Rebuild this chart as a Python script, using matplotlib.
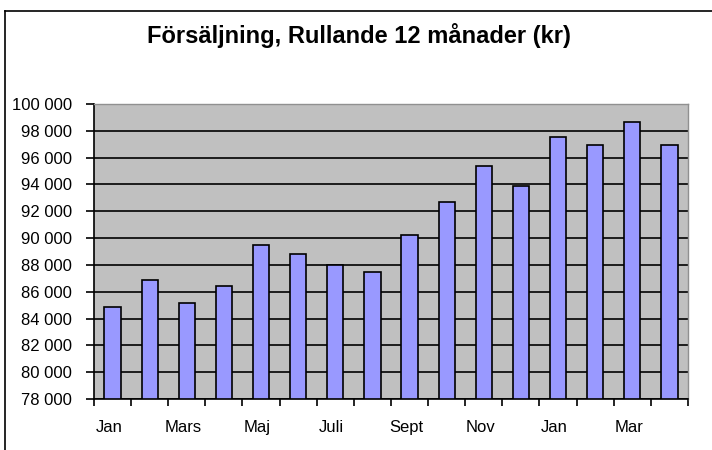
import matplotlib
matplotlib.use("Agg")
import matplotlib.pyplot as plt
from matplotlib.ticker import FuncFormatter, FixedLocator
from matplotlib.transforms import ScaledTranslation
import numpy as np

months = ["Jan", "Feb", "Mars", "Apr", "Maj", "Jun", "Juli", "Aug",
          "Sept", "Okt", "Nov", "Dec", "Jan", "Feb", "Mar", "Apr"]
sales = [84860, 86850, 85180, 86400, 89450, 88830, 87960, 87470,
         90220, 92660, 95390, 93900, 97530, 96910, 98650, 96910]
shown_labels = ["Jan", "Mars", "Maj", "Juli", "Sept", "Nov", "Jan", "Mar"]
title = "Försäljning, Rullande 12 månader (kr)"

plt.rcParams['font.family'] = ['Liberation Sans', 'DejaVu Sans']

fig = plt.figure(figsize=(7.12, 4.5), dpi=100)
fig.patch.set_facecolor("white")

# outer chart-area border (left and top visible)
fig.add_artist(plt.Line2D([5/712, 5/712], [0, 1 - 11/450], transform=fig.transFigure,
                          color="black", lw=1.2))
fig.add_artist(plt.Line2D([5/712, 1], [1 - 11/450, 1 - 11/450], transform=fig.transFigure,
                          color="black", lw=1.2))

ax = fig.add_axes([94/712, 1 - 399/450, (688 - 94)/712, (399 - 104)/450])
ax.set_facecolor("#C0C0C0")

x = np.arange(len(sales))
ax.bar(x, [v - 78000 for v in sales], bottom=78000, width=0.44,
       color="#9999FF", edgecolor="black", linewidth=1.2, zorder=3)

ax.set_xlim(-0.5, len(sales) - 0.5)
ax.set_ylim(78000, 100000)
ax.set_yticks(np.arange(78000, 100001, 2000))
ax.yaxis.set_major_formatter(FuncFormatter(lambda v, p: f"{int(v):,}".replace(",", " ")))
ax.grid(axis="y", color="black", linewidth=1.2, zorder=1)
ax.set_axisbelow(True)

label_pos = [i for i in range(len(months)) if i % 2 == 0]
ax.set_xticks(label_pos)
ax.set_xticklabels(shown_labels)
ax.xaxis.set_minor_locator(FixedLocator(np.arange(-0.5, len(sales), 1.0)))
ax.tick_params(axis="x", which="major", length=0, pad=15, labelsize=12)
ax.tick_params(axis="x", which="minor", length=5, width=1.2, direction="out", color="black")
ax.tick_params(axis="y", which="major", length=6, width=1.2, direction="out",
               labelsize=12, pad=10)
shift = ScaledTranslation(-3.5/100, 0, fig.dpi_scale_trans)
for lbl in ax.get_xticklabels():
    lbl.set_transform(lbl.get_transform() + shift)

for s in ["top", "right"]:
    ax.spines[s].set_color("#909090")
    ax.spines[s].set_linewidth(1.0)
for s in ["left", "bottom"]:
    ax.spines[s].set_color("black")
    ax.spines[s].set_linewidth(1.2)

fig.text(359/712, 1 - 43/450, title, ha="center", va="baseline",
         fontsize=17, fontweight="bold")

fig.savefig("out.png", dpi=100)
